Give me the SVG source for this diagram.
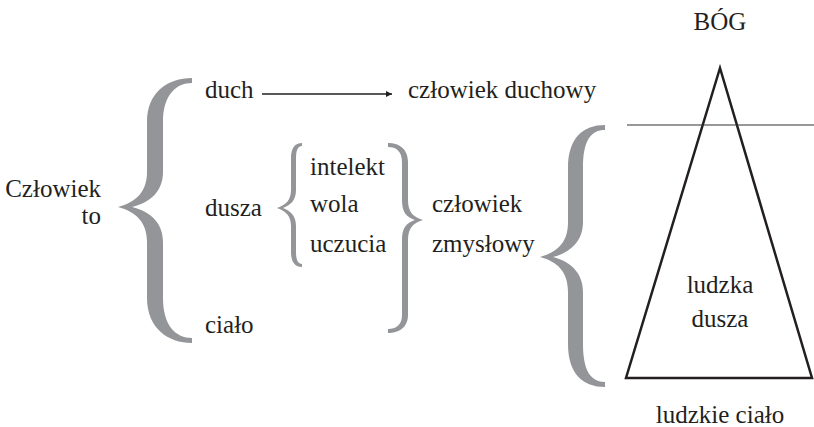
<svg xmlns="http://www.w3.org/2000/svg" width="814" height="427" viewBox="0 0 814 427">
<defs>
<style>
text{font-family:'Liberation Serif','Times New Roman',Times,'DejaVu Serif',serif;font-size:25px;fill:#231f20}
.mid{text-anchor:middle}
.end{text-anchor:end}
.brace{fill:#939598;stroke:none}
.conn{stroke:#231f20;stroke-width:1.3;fill:none}
</style>
<marker id="arr" viewBox="0 0 10 10" refX="10" refY="5" markerWidth="10" markerHeight="6" markerUnits="userSpaceOnUse" orient="auto">
<path d="M0,0 L10,5 L0,10 Z" fill="#231f20"/>
</marker>
</defs>
<rect width="814" height="427" fill="#ffffff"/>
<g font-family="Liberation Serif, Times New Roman, DejaVu Serif, serif">

<g id="czlowiek-to">
<text class="end" x="101" y="197">Człowiek</text>
<text class="end" x="101" y="224">to</text>
</g>

<g id="brace-main">
<path class="brace" d="M192,78 C168,78 147,92 147,122 L147,172 C147,192 136,202 118,207 C136,212 147,222 147,242 L147,298 C147,328 168,343 192,343 L192,338 C176,338 163,326 163,298 L163,242 C163,224 152,212 132,207 C152,202 163,190 163,172 L163,122 C163,95 176,83 192,83 Z"/>
</g>

<g id="duch"><text x="205" y="98">duch</text></g>
<g id="czlowiek-duchowy"><text x="408" y="98">człowiek duchowy</text></g>
<g id="dusza"><text x="205" y="216">dusza</text></g>
<g id="cialo"><text x="205" y="333">ciało</text></g>

<g id="brace-dusza">
<path class="brace" d="M302,143 C295,143 291,148 291,158 L291,190 C291,200 286,205 277,208 C286,211 291,216 291,226 L291,252 C291,262 295,267 302,267 L302,264 C298,264 296,260 296,252 L296,226 C296,216 291,211 283,208 C291,205 296,200 296,190 L296,158 C296,150 298,146 302,146 Z"/>
</g>

<g id="wladze">
<text x="310" y="175">intelekt</text>
<text x="310" y="212">wola</text>
<text x="310" y="252">uczucia</text>
</g>

<g id="brace-zmyslowy">
<path class="brace" d="M388,143 C398,143 408,148 408,162 L408,200 C408,212 413,217 423,220 C413,223 408,228 408,240 L408,315 C408,328 398,333 388,333 L388,329 C396,329 402,325 402,315 L402,240 C402,228 406,223 415,220 C406,217 402,212 402,200 L402,162 C402,151 396,147 388,147 Z"/>
</g>

<g id="czlowiek-zmyslowy">
<text x="432" y="212">człowiek</text>
<text x="432" y="252">zmysłowy</text>
</g>

<g id="brace-triangle">
<path class="brace" d="M605,125 C583,125 568,138 568,168 L568,222 C568,242 558,252 540,257 C558,262 568,272 568,292 L568,344 C568,374 583,387 605,387 L605,382 C591,382 583,371 583,344 L583,292 C583,274 572,262 553,257 C572,252 583,240 583,222 L583,168 C583,140 591,130 605,130 Z"/>
</g>

<g id="bog"><text class="mid" x="720" y="30">BÓG</text></g>

<g id="triangle">
<polygon points="720,68 626,378 812,378" fill="none" stroke="#231f20" stroke-width="2.5" stroke-linejoin="miter"/>
<text class="mid" x="720" y="293">ludzka</text>
<text class="mid" x="720" y="327">dusza</text>
</g>

<g id="ludzkie-cialo"><text class="mid" x="720" y="423">ludzkie ciało</text></g>

<g id="connectors">
<line class="conn" x1="262" y1="94" x2="392" y2="94" marker-end="url(#arr)"/>
<line x1="627" y1="125" x2="814" y2="125" stroke="#333333" stroke-width="1.2"/>
</g>
</g>
</svg>
